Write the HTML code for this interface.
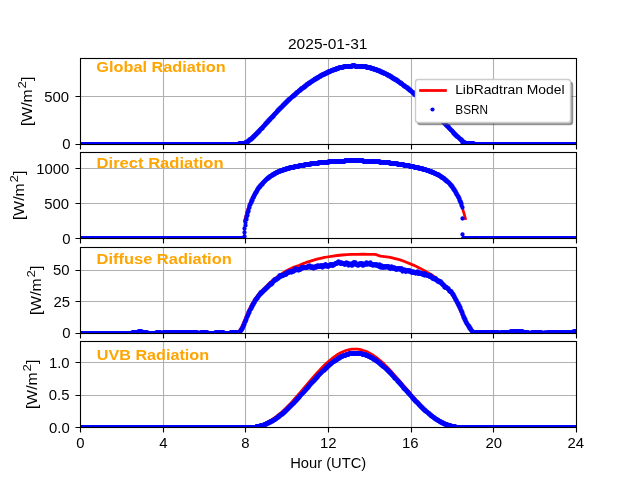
<!DOCTYPE html>
<html lang="en"><head><meta charset="utf-8"><title>Radiation 2025-01-31</title>
<style>html,body{margin:0;padding:0;background:#fff;overflow:hidden}svg{display:block}text{font-family:"Liberation Sans",sans-serif}</style></head>
<body>
<svg width="640" height="480" viewBox="0 0 640 480">
<rect width="640" height="480" fill="#fff"/>
<defs><clipPath id="c0"><rect x="80" y="58" width="496" height="86"/></clipPath><clipPath id="c1"><rect x="80" y="152" width="496" height="86"/></clipPath><clipPath id="c2"><rect x="80" y="247" width="496" height="86"/></clipPath><clipPath id="c3"><rect x="80" y="341" width="496" height="86"/></clipPath></defs>
<g id="ax0">
<path d="M163.5 58.5V144.5M245.5 58.5V144.5M328.5 58.5V144.5M411.5 58.5V144.5M493.5 58.5V144.5M80.5 96.5H576.5" stroke="#b0b0b0" stroke-width="1.11" fill="none"/>
<g clip-path="url(#c0)" fill="none" stroke-linejoin="round">
<path d="M80 143.6 238.4 143.6 241.5 143.2 244.3 142.8 245 142.5 246.4 141.8 248.4 140.3 251.5 137.6 254.3 135.1 257.7 131.6 260.1 129.1 273.9 114.1 278.7 109 283.2 104.4 288 99.8 292.9 95.4 298.4 90.7 303.5 86.6 308.4 83 311.5 80.8 314.2 79 317.3 77.1 320.1 75.5 322.8 74.1 325.9 72.5 328.7 71.3 331.8 70 334.5 68.9 337.3 67.9 338.7 67.5 340.1 67.1 343.2 66.5 346.3 66 349.7 65.6 353.1 65.4 353.8 64.8 354.2 65 354.5 65.6 357.6 65.7 358 65.5 359.7 65.6 363.5 66.1 366.9 66.7 369.3 67.3 371.4 67.9 373.8 68.6 376.6 69.6 379.7 70.9 382.8 72.3 385.9 73.8 388.6 75.3 391.4 76.9 394.1 78.6 397.2 80.6 400.3 82.8 403.4 85 406.5 87.4 412.4 92.1 419.3 98.1 425.8 104.1 430.3 108.5 436.2 114.4 449.6 128.6 455.4 134.6 458.5 137.7 461.6 140.4 462.3 142 462.7 142.2 468.5 143.1 473.7 143.6 575.7 143.6" stroke="#f00" stroke-width="2.78" stroke-linecap="square"/>
<path d="M352.5 65.5h2M343.5 66.5h9M355.5 66.5h11M339.5 67.5h4M366.5 67.5h4M336.5 68.5h2M370.5 68.5h3M333.5 69.5h3M373.5 69.5h3M331.5 70.5h2M376.5 70.5h3M328.5 71.5h2M379.5 71.5h2M326.5 72.5h2M381.5 72.5h2M324.5 73.5h2M383.5 73.5h2M322.5 74.5h2M386.5 74.5h1M320.5 75.5h2M387.5 75.5h2M319.5 76.5h1M389.5 76.5h2M317.5 77.5h1M391.5 77.5h1M315.5 78.5h2M392.5 78.5h2M314.5 79.5h1M394.5 79.5h2M312.5 80.5h1M396.5 80.5h1M311.5 81.5h1M397.5 81.5h1M309.5 82.5h1M399.5 82.5h1M308.5 83.5h1M400.5 83.5h1M306.5 84.5h1M402.5 84.5h0M305.5 85.5h1M403.5 85.5h1M304.5 86.5h1M404.5 86.5h1M303.5 87.5h1M406.5 87.5h1M301.5 88.5h1M407.5 88.5h1M300.5 89.5h1M408.5 89.5h1M299.5 90.5h1M409.5 90.5h1M298.5 91.5h0M411.5 91.5h0M296.5 92.5h1M412.5 92.5h1M295.5 93.5h1M413.5 93.5h1M294.5 94.5h1M414.5 94.5h1M293.5 95.5h1M415.5 95.5h1M292.5 96.5h1M417.5 96.5h0M291.5 97.5h0M418.5 97.5h1M290.5 98.5h0M419.5 98.5h1M288.5 99.5h1M420.5 99.5h1M287.5 100.5h1M421.5 100.5h1M286.5 101.5h1M422.5 101.5h1M285.5 102.5h1M423.5 102.5h1M284.5 103.5h1M424.5 103.5h1M283.5 104.5h1M425.5 104.5h1M282.5 105.5h1M427.5 105.5h0M282.5 106.5h0M428.5 106.5h0M280.5 107.5h1M429.5 107.5h0M279.5 108.5h1M430.5 108.5h0M278.5 109.5h1M431.5 109.5h0M277.5 110.5h1M431.5 110.5h1M277.5 111.5h0M432.5 111.5h1M276.5 112.5h0M433.5 112.5h1M275.5 113.5h0M434.5 113.5h1M274.5 114.5h0M435.5 114.5h1M273.5 115.5h0M437.5 115.5h0M272.5 116.5h1M437.5 116.5h1M271.5 117.5h1M438.5 117.5h1M270.5 118.5h0M439.5 118.5h1M269.5 119.5h1M440.5 119.5h1M268.5 120.5h1M441.5 120.5h1M267.5 121.5h1M442.5 121.5h1M266.5 122.5h1M443.5 122.5h1M265.5 123.5h1M444.5 123.5h1M265.5 124.5h0M445.5 124.5h0M264.5 125.5h0M446.5 125.5h0M263.5 126.5h0M447.5 126.5h1M262.5 127.5h0M448.5 127.5h0M261.5 128.5h1M449.5 128.5h0M260.5 129.5h0M450.5 129.5h0M259.5 130.5h0M451.5 130.5h0M258.5 131.5h1M452.5 131.5h0M257.5 132.5h1M453.5 132.5h0M256.5 133.5h1M453.5 133.5h1M255.5 134.5h1M454.5 134.5h1M254.5 135.5h1M455.5 135.5h1M253.5 136.5h1M456.5 136.5h1M252.5 137.5h1M458.5 137.5h0M251.5 138.5h1M459.5 138.5h0M249.5 139.5h2M460.5 139.5h1M248.5 140.5h1M461.5 140.5h1M247.5 141.5h1M462.5 141.5h0M245.5 142.5h2M462.5 142.5h2M239.5 143.5h6M465.5 143.5h8M80.5 144.5h158M473.5 144.5h103" stroke="#00f" stroke-width="4.32" stroke-linecap="round"/>
<path d="M352.5 65.5h2M344.5 66.5h7M355.5 66.5h10M339.5 67.5h3M366.5 67.5h4M336.5 68.5h2M371.5 68.5h2M334.5 69.5h1M374.5 69.5h2M331.5 70.5h1M377.5 70.5h1M329.5 71.5h1M379.5 71.5h1M327.5 72.5h1M381.5 72.5h2M325.5 73.5h1M384.5 73.5h1M322.5 74.5h2M386.5 74.5h1M321.5 75.5h0M388.5 75.5h1M319.5 76.5h1M390.5 76.5h0M317.5 77.5h1M391.5 77.5h1M316.5 78.5h0M393.5 78.5h0M314.5 79.5h1M394.5 79.5h1M313.5 80.5h0M396.5 80.5h1M311.5 81.5h0M398.5 81.5h0M310.5 82.5h0M399.5 82.5h0M308.5 83.5h1M400.5 83.5h1M307.5 84.5h0M402.5 84.5h0M306.5 85.5h0M403.5 85.5h0M304.5 86.5h1M404.5 86.5h1M303.5 87.5h0M406.5 87.5h0M301.5 88.5h1M407.5 88.5h1M300.5 89.5h0M409.5 89.5h0M299.5 90.5h0M410.5 90.5h0M298.5 91.5h0M411.5 91.5h0M297.5 92.5h0M412.5 92.5h0M296.5 93.5h0M413.5 93.5h0M295.5 94.5h0M414.5 94.5h1M293.5 95.5h1M416.5 95.5h0M292.5 96.5h0M417.5 96.5h0M291.5 97.5h0M418.5 97.5h0M290.5 98.5h0M419.5 98.5h0M289.5 99.5h0M420.5 99.5h0M288.5 100.5h0M421.5 100.5h0M287.5 101.5h0M422.5 101.5h0M286.5 102.5h0M423.5 102.5h0M285.5 103.5h0M424.5 103.5h1M284.5 104.5h0M426.5 104.5h0M283.5 105.5h0M427.5 105.5h0M282.5 106.5h0M428.5 106.5h0M281.5 107.5h0M429.5 107.5h0M280.5 108.5h0M430.5 108.5h0M279.5 109.5h0M431.5 109.5h0M278.5 110.5h0M432.5 110.5h0M277.5 111.5h0M433.5 111.5h0M276.5 112.5h0M434.5 112.5h0M275.5 113.5h0M435.5 113.5h0M274.5 114.5h0M436.5 114.5h0M273.5 115.5h0M437.5 115.5h0M272.5 116.5h0M438.5 116.5h0M271.5 117.5h0M439.5 117.5h0M270.5 118.5h0M440.5 118.5h0M269.5 119.5h0M441.5 119.5h0M268.5 120.5h0M442.5 121.5h0M267.5 122.5h0M443.5 122.5h0M266.5 123.5h0M444.5 123.5h0M265.5 124.5h0M445.5 124.5h0M264.5 125.5h0M446.5 125.5h0M263.5 126.5h0M447.5 126.5h0M262.5 127.5h0M448.5 127.5h0M261.5 128.5h0M449.5 128.5h0M260.5 129.5h0M450.5 129.5h0M259.5 130.5h0M451.5 130.5h0M258.5 131.5h0M452.5 131.5h0M257.5 132.5h0M453.5 132.5h0M256.5 133.5h0M454.5 133.5h0M255.5 134.5h0M455.5 134.5h0M254.5 135.5h0M456.5 135.5h0M253.5 136.5h0M457.5 136.5h0M252.5 137.5h0M458.5 137.5h0M251.5 138.5h0M459.5 138.5h0M250.5 139.5h0M460.5 139.5h0M249.5 140.5h0M461.5 140.5h0M247.5 141.5h1M245.5 142.5h1M463.5 142.5h1M239.5 143.5h5M465.5 143.5h8M80.5 144.5h158M474.5 144.5h101" stroke="#00f" stroke-width="4.32" stroke-linecap="round"/>
<path d="M353.5 65.5h0M344.5 66.5h7M355.5 66.5h8M365.5 66.5h0M339.5 67.5h3M367.5 67.5h2M337.5 68.5h1M371.5 68.5h1M334.5 69.5h1M375.5 69.5h0M331.5 70.5h1M377.5 70.5h1M329.5 71.5h1M380.5 71.5h0M327.5 72.5h0M382.5 72.5h0M325.5 73.5h0M384.5 73.5h0M386.5 74.5h0M321.5 75.5h0M388.5 75.5h0M319.5 76.5h0M390.5 76.5h0M318.5 77.5h0M316.5 78.5h0M393.5 78.5h0M314.5 79.5h0M313.5 80.5h0M311.5 81.5h0M398.5 81.5h0M310.5 82.5h0M399.5 82.5h0M308.5 83.5h0M401.5 83.5h0M307.5 84.5h0M402.5 84.5h0M403.5 85.5h0M303.5 87.5h0M406.5 87.5h0M299.5 90.5h0M410.5 90.5h0M298.5 91.5h0M411.5 91.5h0M297.5 92.5h0M412.5 92.5h0M417.5 96.5h0M291.5 97.5h0M418.5 97.5h0M290.5 98.5h0M289.5 99.5h0M427.5 105.5h0M428.5 106.5h0M429.5 107.5h0M430.5 108.5h0M276.5 112.5h0M275.5 113.5h0M274.5 114.5h0M264.5 125.5h0M446.5 125.5h0M263.5 126.5h0M449.5 128.5h0M260.5 129.5h0M450.5 129.5h0M451.5 130.5h0M452.5 131.5h0M458.5 137.5h0M459.5 138.5h0M460.5 139.5h0M246.5 142.5h0M463.5 142.5h1M239.5 143.5h0M241.5 143.5h3M465.5 143.5h1M468.5 143.5h4M81.5 144.5h3M86.5 144.5h8M96.5 144.5h9M107.5 144.5h8M117.5 144.5h8M127.5 144.5h9M138.5 144.5h8M148.5 144.5h8M158.5 144.5h9M169.5 144.5h8M179.5 144.5h8M189.5 144.5h9M200.5 144.5h8M210.5 144.5h8M220.5 144.5h9M231.5 144.5h7M474.5 144.5h3M479.5 144.5h8M489.5 144.5h8M499.5 144.5h9M510.5 144.5h8M520.5 144.5h8M530.5 144.5h9M541.5 144.5h8M551.5 144.5h8M561.5 144.5h9M572.5 144.5h3" stroke="#00f" stroke-width="4.32" stroke-linecap="round"/>
</g>
<path d="M80.5 144.5v5M163.5 144.5v5M245.5 144.5v5M328.5 144.5v5M411.5 144.5v5M493.5 144.5v5M576.5 144.5v5M80.5 144.5h-5M80.5 96.5h-5" stroke="#000" stroke-width="1.11" fill="none"/>
<rect x="80.5" y="58.5" width="496" height="86" fill="none" stroke="#000" stroke-width="1.11"/>
</g>
<g id="ax1">
<path d="M163.5 152.5V238.5M245.5 152.5V238.5M328.5 152.5V238.5M411.5 152.5V238.5M493.5 152.5V238.5M80.5 203.5H576.5M80.5 168.5H576.5" stroke="#b0b0b0" stroke-width="1.11" fill="none"/>
<g clip-path="url(#c1)" fill="none" stroke-linejoin="round">
<path d="M244.6 220.8 246 215.7 247.4 210.9 248.4 207.7 249.8 203.8 251.2 200.4 252.6 197.4 254.3 194 256 191.1 257.7 188.4 259.8 185.7 261.9 183.2 263.9 181 266.3 178.8 268.8 176.8 271.2 175.1 273.9 173.4 276.7 172 279.4 170.7 282.5 169.5 285.6 168.5 289.4 167.5 293.6 166.5 298.4 165.5 303.5 164.6 308.7 163.7 314.6 162.9 320.1 162.3 325.6 161.7 333.2 161.1 339 160.7 344.2 160.5 350 160.4 356.2 160.4 362.1 160.5 367.6 160.7 373.1 161 380.4 161.6 387.2 162.3 393.4 163 399.3 163.9 405.5 164.9 411.4 166 416.5 167.1 421.3 168.3 425.5 169.5 428.9 170.6 432.4 172 435.8 173.6 438.6 175.1 441.3 176.7 443.7 178.4 446.1 180.4 448.2 182.3 450.3 184.6 452 186.8 453.7 189.2 455.4 192 456.8 194.5 458.5 198.1 459.9 201.3 461.3 205 462.7 209.1 464.1 213.6 465.4 218.6" stroke="#f00" stroke-width="2.78" stroke-linecap="square"/>
<path d="M345.5 160.5h17M328.5 161.5h16M363.5 161.5h16M318.5 162.5h10M379.5 162.5h10M310.5 163.5h8M389.5 163.5h8M304.5 164.5h6M397.5 164.5h6M299.5 165.5h5M403.5 165.5h6M294.5 166.5h4M409.5 166.5h4M289.5 167.5h5M414.5 167.5h4M286.5 168.5h3M418.5 168.5h4M283.5 169.5h3M422.5 169.5h3M280.5 170.5h3M426.5 170.5h2M278.5 171.5h2M429.5 171.5h2M276.5 172.5h1M431.5 172.5h2M274.5 173.5h1M434.5 173.5h1M272.5 174.5h2M436.5 174.5h2M271.5 175.5h1M438.5 175.5h1M269.5 176.5h1M440.5 176.5h1M268.5 177.5h1M441.5 177.5h1M267.5 178.5h1M443.5 178.5h1M266.5 179.5h0M444.5 179.5h1M265.5 180.5h0M445.5 180.5h1M264.5 181.5h0M446.5 181.5h1M263.5 182.5h0M448.5 182.5h0M262.5 183.5h0M449.5 183.5h0M261.5 184.5h1M450.5 184.5h0M260.5 185.5h0M450.5 185.5h1M259.5 186.5h1M451.5 186.5h1M258.5 187.5h1M452.5 187.5h0M258.5 188.5h0M453.5 188.5h0M257.5 189.5h0M453.5 189.5h1M257.5 190.5h0M454.5 190.5h0M256.5 191.5h0M455.5 191.5h0M255.5 192.5h1M455.5 192.5h0M255.5 193.5h0M456.5 193.5h0M254.5 194.5h0M456.5 194.5h0M254.5 195.5h0M457.5 195.5h0M253.5 196.5h0M458.5 196.5h0M253.5 197.5h0M458.5 197.5h0M252.5 198.5h0M459.5 198.5h0M252.5 199.5h0M459.5 199.5h0M251.5 200.5h1M459.5 200.5h0M251.5 201.5h0M460.5 201.5h0M251.5 202.5h0M460.5 202.5h0M250.5 203.5h0M461.5 203.5h0M250.5 204.5h0M461.5 204.5h0M249.5 205.5h0M461.5 205.5h0M249.5 206.5h0M249.5 207.5h0M462.5 207.5h0M248.5 209.5h0M248.5 210.5h0M248.5 211.5h0M247.5 212.5h0M247.5 213.5h0M247.5 215.5h0M246.5 216.5h0M246.5 217.5h0M462.5 218.5h0M246.5 219.5h0M245.5 220.5h0M245.5 222.5h0M245.5 225.5h0M244.5 228.5h0M244.5 232.5h0M462.5 234.5h0M244.5 236.5h0M80.5 238.5h163M463.5 238.5h113" stroke="#00f" stroke-width="4.32" stroke-linecap="round"/>
<path d="M345.5 160.5h17M329.5 161.5h15M363.5 161.5h16M319.5 162.5h9M380.5 162.5h9M311.5 163.5h7M390.5 163.5h6M305.5 164.5h5M397.5 164.5h6M299.5 165.5h5M404.5 165.5h4M294.5 166.5h4M409.5 166.5h4M290.5 167.5h3M414.5 167.5h4M286.5 168.5h3M419.5 168.5h3M283.5 169.5h2M423.5 169.5h2M280.5 170.5h2M426.5 170.5h2M278.5 171.5h1M429.5 171.5h2M276.5 172.5h1M432.5 172.5h1M274.5 173.5h1M434.5 173.5h1M273.5 174.5h0M436.5 174.5h1M271.5 175.5h1M438.5 175.5h1M270.5 176.5h0M440.5 176.5h0M268.5 177.5h1M441.5 177.5h1M267.5 178.5h0M443.5 178.5h0M266.5 179.5h0M444.5 179.5h0M265.5 180.5h0M445.5 180.5h1M264.5 181.5h0M447.5 181.5h0M263.5 182.5h0M448.5 182.5h0M262.5 183.5h0M449.5 183.5h0M261.5 184.5h0M450.5 184.5h0M260.5 185.5h0M451.5 185.5h0M259.5 187.5h0M452.5 187.5h0M258.5 188.5h0M453.5 188.5h0M257.5 189.5h0M454.5 190.5h0M256.5 191.5h0M455.5 191.5h0M255.5 193.5h0M456.5 193.5h0M254.5 195.5h0M457.5 195.5h0M253.5 197.5h0M458.5 197.5h0M460.5 201.5h0M80.5 238.5h163M463.5 238.5h112" stroke="#00f" stroke-width="4.32" stroke-linecap="round"/>
<path d="M345.5 160.5h8M355.5 160.5h7M329.5 161.5h3M334.5 161.5h8M344.5 161.5h0M363.5 161.5h0M365.5 161.5h8M375.5 161.5h3M319.5 162.5h3M324.5 162.5h3M380.5 162.5h4M386.5 162.5h2M311.5 163.5h0M313.5 163.5h4M390.5 163.5h4M396.5 163.5h0M305.5 164.5h4M398.5 164.5h4M299.5 165.5h2M303.5 165.5h0M404.5 165.5h0M406.5 165.5h2M295.5 166.5h3M410.5 166.5h3M290.5 167.5h1M293.5 167.5h0M414.5 167.5h1M417.5 167.5h0M287.5 168.5h1M419.5 168.5h2M284.5 169.5h1M423.5 169.5h2M282.5 170.5h0M427.5 170.5h1M278.5 171.5h1M429.5 171.5h1M276.5 172.5h1M432.5 172.5h1M275.5 173.5h0M434.5 173.5h1M273.5 174.5h0M437.5 174.5h0M439.5 175.5h0M270.5 176.5h0M440.5 176.5h0M442.5 177.5h0M267.5 178.5h0M443.5 178.5h0M266.5 179.5h0M265.5 180.5h0M264.5 181.5h0M263.5 182.5h0M448.5 182.5h0M449.5 183.5h0M81.5 238.5h3M86.5 238.5h8M96.5 238.5h9M107.5 238.5h8M117.5 238.5h8M127.5 238.5h9M138.5 238.5h8M148.5 238.5h8M158.5 238.5h9M169.5 238.5h8M179.5 238.5h8M189.5 238.5h9M200.5 238.5h8M210.5 238.5h8M220.5 238.5h9M231.5 238.5h8M241.5 238.5h2M463.5 238.5h3M468.5 238.5h9M479.5 238.5h8M489.5 238.5h8M499.5 238.5h9M510.5 238.5h8M520.5 238.5h8M530.5 238.5h9M541.5 238.5h8M551.5 238.5h8M561.5 238.5h9M572.5 238.5h3" stroke="#00f" stroke-width="4.32" stroke-linecap="round"/>
</g>
<path d="M80.5 238.5v5M163.5 238.5v5M245.5 238.5v5M328.5 238.5v5M411.5 238.5v5M493.5 238.5v5M576.5 238.5v5M80.5 238.5h-5M80.5 203.5h-5M80.5 168.5h-5" stroke="#000" stroke-width="1.11" fill="none"/>
<rect x="80.5" y="152.5" width="496" height="86" fill="none" stroke="#000" stroke-width="1.11"/>
</g>
<g id="ax2">
<path d="M163.5 247.5V333.5M245.5 247.5V333.5M328.5 247.5V333.5M411.5 247.5V333.5M493.5 247.5V333.5M80.5 301.5H576.5M80.5 270.5H576.5" stroke="#b0b0b0" stroke-width="1.11" fill="none"/>
<g clip-path="url(#c2)" fill="none" stroke-linejoin="round">
<path d="M239.8 330 240.5 329 241.2 327.8 242.9 324.4 247.4 313.6 249.1 309.6 250.5 306.7 251.9 304.1 253.9 300.6 255.3 298.4 256.4 297 260.8 291.7 267 285.8 267.4 285.1 270.8 281.9 274.3 279 277.7 276.4 282.2 273.4 286 271 289.4 269.2 292.2 267.9 294.2 267.1 299.4 265.3 303.9 263.4 305.6 262.7 317 259.2 321.5 258.1 324.6 257.4 327 257 337.3 255.5 342.1 255 346.9 254.6 351.8 254.4 357.6 254.3 362.8 254.2 369 254.3 373.8 254.3 374.8 254.4 376.2 254.6 379 255.7 380.4 256.1 382.4 256.4 388.6 257.2 391.4 257.7 394.1 258.3 398.3 259.3 400.7 260.1 402.7 260.8 413.4 265.1 416.9 266.7 420.3 268.4 424.4 270.6 429.6 273.6 432.4 275.3 434.8 277.1 436.5 278.5 438.6 280.3 438.9 281.9 442.7 284.6 444.1 285.7 445.1 286.7 449.2 291.2 451 293 452 294.4 453 296 454.1 297.8 456.1 301.6 457.5 304.3 459.2 308 462.7 316.1 464.7 320.5 466.5 323.9 468.2 326.9 469.6 328.9 470.3 329.8 471.3 330.9 472.7 332" stroke="#f00" stroke-width="2.78" stroke-linecap="square"/>
<path d="M338.5 261.5h0M337.5 262.5h2M341.5 262.5h0M346.5 262.5h0M353.5 262.5h2M366.5 262.5h0M370.5 262.5h0M335.5 263.5h2M340.5 263.5h8M351.5 263.5h2M355.5 263.5h0M359.5 263.5h3M365.5 263.5h5M325.5 264.5h0M330.5 264.5h1M333.5 264.5h1M344.5 264.5h1M347.5 264.5h0M349.5 264.5h4M355.5 264.5h12M369.5 264.5h7M379.5 264.5h0M309.5 265.5h0M317.5 265.5h1M320.5 265.5h1M323.5 265.5h7M332.5 265.5h1M348.5 265.5h0M351.5 265.5h1M357.5 265.5h1M362.5 265.5h1M372.5 265.5h1M375.5 265.5h3M381.5 265.5h0M307.5 266.5h5M315.5 266.5h7M324.5 266.5h0M326.5 266.5h2M378.5 266.5h10M391.5 266.5h0M301.5 267.5h6M310.5 267.5h6M322.5 267.5h0M380.5 267.5h0M382.5 267.5h3M387.5 267.5h7M295.5 268.5h0M300.5 268.5h2M313.5 268.5h0M389.5 268.5h1M392.5 268.5h9M294.5 269.5h6M395.5 269.5h2M399.5 269.5h3M404.5 269.5h0M293.5 270.5h2M298.5 270.5h0M402.5 270.5h2M406.5 270.5h3M289.5 271.5h4M402.5 271.5h0M405.5 271.5h1M408.5 271.5h5M417.5 271.5h0M287.5 272.5h2M291.5 272.5h0M411.5 272.5h8M285.5 273.5h1M415.5 273.5h0M417.5 273.5h7M283.5 274.5h3M422.5 274.5h1M425.5 274.5h1M279.5 275.5h4M424.5 275.5h0M426.5 275.5h2M430.5 275.5h0M279.5 276.5h2M429.5 276.5h2M278.5 277.5h1M431.5 277.5h1M277.5 278.5h1M432.5 278.5h3M274.5 279.5h2M434.5 279.5h0M436.5 279.5h0M273.5 280.5h2M436.5 280.5h2M273.5 281.5h0M437.5 281.5h3M272.5 282.5h0M439.5 282.5h2M270.5 283.5h2M441.5 283.5h0M269.5 284.5h2M442.5 284.5h1M268.5 285.5h1M443.5 285.5h1M267.5 286.5h1M444.5 286.5h1M266.5 287.5h1M444.5 287.5h2M265.5 288.5h1M447.5 288.5h1M264.5 289.5h1M448.5 289.5h0M263.5 290.5h1M449.5 290.5h0M262.5 291.5h1M449.5 291.5h2M260.5 292.5h2M451.5 292.5h0M260.5 293.5h1M452.5 293.5h0M259.5 294.5h1M452.5 294.5h1M258.5 295.5h1M453.5 295.5h0M258.5 296.5h0M454.5 296.5h0M257.5 297.5h0M454.5 297.5h0M256.5 298.5h1M455.5 298.5h0M255.5 299.5h1M455.5 299.5h0M255.5 300.5h0M456.5 300.5h0M254.5 301.5h0M456.5 301.5h0M254.5 302.5h0M457.5 302.5h0M253.5 303.5h0M457.5 303.5h1M252.5 304.5h1M458.5 304.5h0M252.5 305.5h0M458.5 305.5h1M251.5 306.5h1M459.5 306.5h0M251.5 307.5h0M459.5 307.5h1M251.5 308.5h0M460.5 308.5h0M250.5 309.5h0M460.5 309.5h0M249.5 310.5h0M461.5 310.5h0M249.5 311.5h0M461.5 311.5h0M248.5 312.5h1M462.5 312.5h0M248.5 313.5h0M462.5 313.5h0M248.5 314.5h0M462.5 314.5h0M247.5 315.5h0M463.5 315.5h0M247.5 316.5h0M463.5 316.5h0M246.5 317.5h0M463.5 317.5h1M246.5 318.5h0M464.5 318.5h0M246.5 319.5h0M464.5 319.5h1M245.5 320.5h0M465.5 320.5h0M245.5 321.5h0M465.5 321.5h0M244.5 322.5h0M466.5 322.5h0M244.5 323.5h0M466.5 323.5h0M244.5 324.5h0M467.5 324.5h0M243.5 325.5h0M468.5 325.5h0M243.5 326.5h0M468.5 326.5h1M242.5 327.5h0M469.5 327.5h0M242.5 328.5h0M469.5 328.5h1M241.5 329.5h0M470.5 329.5h0M240.5 330.5h1M471.5 330.5h0M138.5 331.5h3M240.5 331.5h0M472.5 331.5h0M510.5 331.5h12M573.5 331.5h3M132.5 332.5h6M141.5 332.5h6M156.5 332.5h4M163.5 332.5h34M200.5 332.5h7M215.5 332.5h8M230.5 332.5h9M473.5 332.5h25M500.5 332.5h10M522.5 332.5h6M531.5 332.5h10M544.5 332.5h1M547.5 332.5h26M80.5 333.5h52M147.5 333.5h9M160.5 333.5h3M197.5 333.5h3M207.5 333.5h8M223.5 333.5h7M498.5 333.5h2M528.5 333.5h3M541.5 333.5h6" stroke="#00f" stroke-width="4.32" stroke-linecap="round"/>
<path d="M337.5 262.5h2M354.5 262.5h0M335.5 263.5h1M340.5 263.5h3M345.5 263.5h3M360.5 263.5h1M365.5 263.5h0M367.5 263.5h2M325.5 264.5h0M330.5 264.5h1M334.5 264.5h0M344.5 264.5h0M349.5 264.5h1M356.5 264.5h3M363.5 264.5h1M371.5 264.5h5M321.5 265.5h0M323.5 265.5h1M326.5 265.5h1M329.5 265.5h0M332.5 265.5h0M377.5 265.5h1M308.5 266.5h1M315.5 266.5h5M322.5 266.5h0M328.5 266.5h0M379.5 266.5h2M383.5 266.5h1M386.5 266.5h2M301.5 267.5h0M303.5 267.5h4M310.5 267.5h1M313.5 267.5h1M382.5 267.5h0M389.5 267.5h0M391.5 267.5h1M390.5 268.5h0M393.5 268.5h1M397.5 268.5h2M401.5 268.5h0M294.5 269.5h0M296.5 269.5h4M396.5 269.5h0M400.5 269.5h0M403.5 270.5h1M406.5 270.5h3M289.5 271.5h4M405.5 271.5h0M410.5 271.5h0M287.5 272.5h1M411.5 272.5h5M286.5 273.5h0M418.5 273.5h3M424.5 273.5h0M284.5 274.5h1M422.5 274.5h1M425.5 274.5h0M280.5 275.5h0M282.5 275.5h1M427.5 275.5h1M429.5 276.5h2M278.5 277.5h0M277.5 278.5h0M432.5 278.5h3M275.5 279.5h1M274.5 280.5h0M437.5 280.5h0M273.5 281.5h0M438.5 281.5h2M272.5 282.5h0M441.5 282.5h0M270.5 283.5h0M442.5 284.5h0M269.5 285.5h0M443.5 285.5h0M268.5 286.5h0M266.5 287.5h1M445.5 287.5h1M447.5 288.5h0M264.5 289.5h1M448.5 289.5h0M263.5 290.5h0M449.5 290.5h0M262.5 291.5h0M450.5 291.5h0M451.5 292.5h0M452.5 293.5h0M259.5 294.5h0M453.5 295.5h0M258.5 296.5h0M257.5 297.5h0M454.5 297.5h0M256.5 298.5h0M455.5 299.5h0M255.5 300.5h0M456.5 300.5h0M254.5 302.5h0M253.5 303.5h0M250.5 309.5h0M461.5 311.5h0M247.5 316.5h0M245.5 321.5h0M466.5 322.5h0M467.5 324.5h0M243.5 325.5h0M468.5 325.5h0M242.5 328.5h0M470.5 328.5h0M241.5 329.5h0M471.5 330.5h0M139.5 331.5h2M472.5 331.5h0M511.5 331.5h11M574.5 331.5h1M132.5 332.5h6M142.5 332.5h4M156.5 332.5h4M163.5 332.5h33M201.5 332.5h5M215.5 332.5h8M231.5 332.5h8M473.5 332.5h24M501.5 332.5h9M523.5 332.5h4M532.5 332.5h9M547.5 332.5h26M80.5 333.5h51M148.5 333.5h7M161.5 333.5h1M197.5 333.5h3M207.5 333.5h7M224.5 333.5h5M499.5 333.5h1M528.5 333.5h3M542.5 333.5h4" stroke="#00f" stroke-width="4.32" stroke-linecap="round"/>
<path d="M339.5 262.5h0M335.5 263.5h1M340.5 263.5h0M342.5 263.5h0M368.5 263.5h0M331.5 264.5h0M334.5 264.5h0M349.5 264.5h1M356.5 264.5h0M371.5 264.5h0M329.5 265.5h0M332.5 265.5h0M377.5 265.5h0M308.5 266.5h0M319.5 266.5h0M386.5 266.5h0M303.5 267.5h3M314.5 267.5h0M398.5 268.5h0M296.5 269.5h1M299.5 269.5h0M403.5 270.5h0M407.5 270.5h0M290.5 271.5h0M410.5 271.5h0M287.5 272.5h1M414.5 272.5h0M420.5 273.5h1M284.5 274.5h0M425.5 274.5h0M282.5 275.5h0M427.5 275.5h1M429.5 276.5h0M277.5 278.5h0M433.5 278.5h0M435.5 278.5h0M276.5 279.5h0M442.5 284.5h0M446.5 287.5h0M450.5 291.5h0M471.5 330.5h0M139.5 331.5h1M472.5 331.5h0M511.5 331.5h7M520.5 331.5h1M574.5 331.5h1M133.5 332.5h3M142.5 332.5h4M158.5 332.5h1M164.5 332.5h3M169.5 332.5h8M179.5 332.5h8M189.5 332.5h7M201.5 332.5h5M216.5 332.5h2M220.5 332.5h2M231.5 332.5h8M473.5 332.5h4M479.5 332.5h8M489.5 332.5h8M501.5 332.5h7M523.5 332.5h4M532.5 332.5h7M548.5 332.5h1M551.5 332.5h8M561.5 332.5h9M572.5 332.5h0M81.5 333.5h3M86.5 333.5h8M96.5 333.5h9M107.5 333.5h8M117.5 333.5h8M127.5 333.5h4M148.5 333.5h7M161.5 333.5h1M198.5 333.5h0M208.5 333.5h0M210.5 333.5h4M224.5 333.5h5M499.5 333.5h0M530.5 333.5h0M542.5 333.5h1M546.5 333.5h0" stroke="#00f" stroke-width="4.32" stroke-linecap="round"/>
</g>
<path d="M80.5 333.5v5M163.5 333.5v5M245.5 333.5v5M328.5 333.5v5M411.5 333.5v5M493.5 333.5v5M576.5 333.5v5M80.5 333.5h-5M80.5 301.5h-5M80.5 270.5h-5" stroke="#000" stroke-width="1.11" fill="none"/>
<rect x="80.5" y="247.5" width="496" height="86" fill="none" stroke="#000" stroke-width="1.11"/>
</g>
<g id="ax3">
<path d="M163.5 341.5V427.5M245.5 341.5V427.5M328.5 341.5V427.5M411.5 341.5V427.5M493.5 341.5V427.5M80.5 395.5H576.5M80.5 362.5H576.5" stroke="#b0b0b0" stroke-width="1.11" fill="none"/>
<g clip-path="url(#c3)" fill="none" stroke-linejoin="round">
<path d="M80 427.2 245.7 427.2 249.5 427.1 252.9 426.7 256 426.2 259.1 425.5 262.2 424.5 265 423.4 267.7 422 270.8 420.3 273.6 418.5 276.7 416.2 279.8 413.7 282.9 411 285.3 408.7 288 406 290.8 403.1 293.9 399.7 299.4 393.4 312.8 377.7 316.3 373.8 319.4 370.4 322.8 366.8 325.9 363.8 329 361 331.8 358.7 334.9 356.3 337.6 354.5 340.7 352.8 343.5 351.5 345.2 350.8 346.6 350.3 349.4 349.6 352.1 349.2 354.9 349.1 357.6 349.2 359 349.4 360.7 349.7 363.5 350.5 366.6 351.6 369.3 352.9 372.4 354.7 375.5 356.8 378.6 359.2 381.4 361.6 384.5 364.4 387.6 367.5 391 371.1 397.2 378.1 410 393 415.1 399 420.7 404.9 425.5 409.7 428.6 412.5 431.3 414.9 434.1 417 436.8 419 439.6 420.7 442.4 422.2 445.1 423.5 447.9 424.6 451.3 425.7 453 426.1 455.1 426.5 458.9 427 463 427.2 575.7 427.2" stroke="#f00" stroke-width="2.78" stroke-linecap="square"/>
<path d="M349.5 353.5h12M346.5 354.5h2M362.5 354.5h3M343.5 355.5h2M365.5 355.5h2M341.5 356.5h1M368.5 356.5h1M339.5 357.5h1M370.5 357.5h1M337.5 358.5h2M372.5 358.5h1M336.5 359.5h1M373.5 359.5h2M334.5 360.5h2M375.5 360.5h1M333.5 361.5h1M376.5 361.5h1M332.5 362.5h0M378.5 362.5h1M330.5 363.5h1M379.5 363.5h1M329.5 364.5h1M380.5 364.5h1M328.5 365.5h1M381.5 365.5h1M327.5 366.5h1M382.5 366.5h1M326.5 367.5h1M384.5 367.5h0M325.5 368.5h1M385.5 368.5h1M324.5 369.5h1M386.5 369.5h1M323.5 370.5h1M387.5 370.5h1M322.5 371.5h0M388.5 371.5h1M321.5 372.5h0M389.5 372.5h1M320.5 373.5h0M390.5 373.5h1M319.5 374.5h0M391.5 374.5h0M318.5 375.5h0M392.5 375.5h0M317.5 376.5h0M393.5 376.5h0M316.5 377.5h1M394.5 377.5h0M315.5 378.5h1M394.5 378.5h1M314.5 379.5h1M396.5 379.5h0M313.5 380.5h1M397.5 380.5h0M312.5 381.5h1M397.5 381.5h1M311.5 382.5h1M398.5 382.5h1M310.5 383.5h1M399.5 383.5h1M310.5 384.5h0M400.5 384.5h1M309.5 385.5h0M401.5 385.5h0M308.5 386.5h0M402.5 386.5h0M307.5 387.5h1M403.5 387.5h0M306.5 388.5h1M403.5 388.5h1M305.5 389.5h1M404.5 389.5h1M304.5 390.5h1M406.5 390.5h0M304.5 391.5h0M406.5 391.5h1M303.5 392.5h0M407.5 392.5h1M302.5 393.5h0M408.5 393.5h1M301.5 394.5h0M409.5 394.5h0M300.5 395.5h0M410.5 395.5h0M299.5 396.5h0M411.5 396.5h0M298.5 397.5h1M412.5 397.5h0M297.5 398.5h1M412.5 398.5h1M296.5 399.5h1M413.5 399.5h1M295.5 400.5h1M414.5 400.5h1M294.5 401.5h1M415.5 401.5h1M294.5 402.5h0M416.5 402.5h1M293.5 403.5h0M417.5 403.5h1M291.5 404.5h1M418.5 404.5h1M290.5 405.5h1M419.5 405.5h1M289.5 406.5h1M420.5 406.5h1M288.5 407.5h1M421.5 407.5h1M287.5 408.5h1M422.5 408.5h1M286.5 409.5h1M423.5 409.5h1M285.5 410.5h1M424.5 410.5h1M284.5 411.5h1M425.5 411.5h1M283.5 412.5h1M427.5 412.5h0M282.5 413.5h1M428.5 413.5h1M280.5 414.5h2M429.5 414.5h1M279.5 415.5h1M430.5 415.5h1M278.5 416.5h1M431.5 416.5h1M277.5 417.5h1M433.5 417.5h1M275.5 418.5h1M434.5 418.5h1M274.5 419.5h1M435.5 419.5h2M272.5 420.5h1M437.5 420.5h1M270.5 421.5h2M439.5 421.5h1M268.5 422.5h2M440.5 422.5h2M266.5 423.5h2M442.5 423.5h2M264.5 424.5h2M444.5 424.5h3M260.5 425.5h3M447.5 425.5h3M256.5 426.5h4M450.5 426.5h5M80.5 427.5h175M455.5 427.5h121" stroke="#00f" stroke-width="4.32" stroke-linecap="round"/>
<path d="M349.5 353.5h12M346.5 354.5h2M362.5 354.5h3M343.5 355.5h2M366.5 355.5h1M341.5 356.5h1M368.5 356.5h1M339.5 357.5h1M370.5 357.5h1M338.5 358.5h0M372.5 358.5h0M336.5 359.5h1M373.5 359.5h1M335.5 360.5h0M375.5 360.5h1M333.5 361.5h1M377.5 361.5h0M332.5 362.5h0M378.5 362.5h0M331.5 363.5h0M379.5 363.5h0M329.5 364.5h1M380.5 364.5h1M328.5 365.5h0M382.5 365.5h0M327.5 366.5h0M383.5 366.5h0M326.5 367.5h0M384.5 367.5h0M325.5 368.5h0M385.5 368.5h0M324.5 369.5h0M386.5 369.5h0M323.5 370.5h0M387.5 370.5h0M322.5 371.5h0M388.5 371.5h0M321.5 372.5h0M389.5 372.5h0M320.5 373.5h0M390.5 373.5h0M319.5 374.5h0M391.5 374.5h0M318.5 375.5h0M392.5 375.5h0M317.5 376.5h0M393.5 376.5h0M316.5 377.5h0M394.5 377.5h0M315.5 378.5h0M395.5 378.5h0M396.5 379.5h0M314.5 380.5h0M397.5 380.5h0M313.5 381.5h0M398.5 381.5h0M399.5 382.5h0M311.5 383.5h0M310.5 384.5h0M400.5 384.5h0M309.5 385.5h0M401.5 385.5h0M308.5 386.5h0M402.5 386.5h0M307.5 387.5h0M403.5 387.5h0M306.5 388.5h0M404.5 388.5h0M405.5 389.5h0M305.5 390.5h0M406.5 390.5h0M304.5 391.5h0M407.5 391.5h0M303.5 392.5h0M302.5 393.5h0M408.5 393.5h0M301.5 394.5h0M409.5 394.5h0M300.5 395.5h0M410.5 395.5h0M299.5 396.5h0M411.5 396.5h0M298.5 397.5h0M412.5 397.5h0M297.5 398.5h0M413.5 398.5h0M414.5 399.5h0M296.5 400.5h0M295.5 401.5h0M415.5 401.5h0M294.5 402.5h0M417.5 402.5h0M293.5 403.5h0M418.5 403.5h0M292.5 404.5h0M291.5 405.5h0M419.5 405.5h0M290.5 406.5h0M420.5 406.5h0M289.5 407.5h0M421.5 407.5h0M288.5 408.5h0M422.5 408.5h0M287.5 409.5h0M423.5 409.5h0M286.5 410.5h0M424.5 410.5h1M285.5 411.5h0M426.5 411.5h0M283.5 412.5h1M427.5 412.5h0M282.5 413.5h0M428.5 413.5h0M281.5 414.5h0M429.5 414.5h0M280.5 415.5h0M430.5 415.5h1M278.5 416.5h1M432.5 416.5h0M277.5 417.5h0M433.5 417.5h0M276.5 418.5h0M434.5 418.5h1M274.5 419.5h1M436.5 419.5h0M272.5 420.5h1M437.5 420.5h1M270.5 421.5h1M439.5 421.5h1M268.5 422.5h1M441.5 422.5h1M266.5 423.5h1M443.5 423.5h1M264.5 424.5h1M445.5 424.5h1M260.5 425.5h3M448.5 425.5h2M256.5 426.5h3M451.5 426.5h3M80.5 427.5h175M455.5 427.5h120" stroke="#00f" stroke-width="4.32" stroke-linecap="round"/>
<path d="M349.5 353.5h4M355.5 353.5h6M346.5 354.5h2M362.5 354.5h1M344.5 355.5h1M366.5 355.5h1M341.5 356.5h1M368.5 356.5h1M340.5 357.5h0M370.5 357.5h1M338.5 358.5h0M372.5 358.5h0M335.5 360.5h0M377.5 361.5h0M332.5 362.5h0M378.5 362.5h0M331.5 363.5h0M383.5 366.5h0M384.5 367.5h0M322.5 371.5h0M321.5 372.5h0M320.5 373.5h0M319.5 374.5h0M318.5 375.5h0M392.5 375.5h0M393.5 376.5h0M396.5 379.5h0M309.5 385.5h0M402.5 386.5h0M303.5 392.5h0M301.5 394.5h0M300.5 395.5h0M410.5 395.5h0M411.5 396.5h0M293.5 403.5h0M427.5 412.5h0M428.5 413.5h0M432.5 416.5h0M277.5 417.5h0M433.5 417.5h0M276.5 418.5h0M274.5 419.5h0M273.5 420.5h0M438.5 420.5h0M439.5 421.5h0M269.5 422.5h0M441.5 422.5h0M267.5 423.5h0M443.5 423.5h0M264.5 424.5h1M445.5 424.5h1M262.5 425.5h1M448.5 425.5h1M256.5 426.5h3M451.5 426.5h3M81.5 427.5h3M86.5 427.5h8M96.5 427.5h9M107.5 427.5h8M117.5 427.5h8M127.5 427.5h9M138.5 427.5h8M148.5 427.5h8M158.5 427.5h9M169.5 427.5h8M179.5 427.5h8M189.5 427.5h9M200.5 427.5h8M210.5 427.5h8M220.5 427.5h9M231.5 427.5h8M241.5 427.5h8M251.5 427.5h4M456.5 427.5h0M458.5 427.5h8M468.5 427.5h9M479.5 427.5h8M489.5 427.5h8M499.5 427.5h9M510.5 427.5h8M520.5 427.5h8M530.5 427.5h9M541.5 427.5h8M551.5 427.5h8M561.5 427.5h9M572.5 427.5h3" stroke="#00f" stroke-width="4.32" stroke-linecap="round"/>
</g>
<path d="M80.5 427.5v5M163.5 427.5v5M245.5 427.5v5M328.5 427.5v5M411.5 427.5v5M493.5 427.5v5M576.5 427.5v5M80.5 427.5h-5M80.5 395.5h-5M80.5 362.5h-5" stroke="#000" stroke-width="1.11" fill="none"/>
<rect x="80.5" y="341.5" width="496" height="86" fill="none" stroke="#000" stroke-width="1.11"/>
</g>
<g id="legend"><rect x="417.65" y="82.23" width="154.88" height="42.25" rx="2.5" fill="#4d4d4d" fill-opacity=".5" stroke="#4d4d4d" stroke-opacity=".5" stroke-width="1.39"/><rect x="415.5" y="79.5" width="155" height="43" rx="2.5" fill="#fff" stroke="#ccc" stroke-width="1.39"/><path d="M419.2 90.5H446.8" stroke="#f00" stroke-width="2.78" fill="none"/><circle cx="432.5" cy="109.5" r="2.085" fill="#00f"/></g>
<g id="labels" opacity=".999">
<text transform="translate(287.93 49.00) scale(1.1065 1)" font-size="14.07">2025-01-31</text>
<text transform="translate(290.24 468.00) scale(1.0465 1)" font-size="14.07">Hour (UTC)</text>
<text transform="translate(32.00 126.00) rotate(-90) scale(1.1200 1)" font-size="14.07">[W/m<tspan dy="-6.00" dx="0.75" font-size="11.82">2</tspan><tspan dy="6.00">]</tspan></text>
<text transform="translate(62.30 148.81) scale(1.0600 1)" font-size="14.07">0</text>
<text transform="translate(44.24 101.81) scale(1.0600 1)" font-size="14.07">500</text>
<text transform="translate(24.00 220.00) rotate(-90) scale(1.1200 1)" font-size="14.07">[W/m<tspan dy="-6.00" dx="0.75" font-size="11.82">2</tspan><tspan dy="6.00">]</tspan></text>
<text transform="translate(62.30 243.81) scale(1.0600 1)" font-size="14.07">0</text>
<text transform="translate(44.24 208.81) scale(1.0600 1)" font-size="14.07">500</text>
<text transform="translate(36.13 174.00) scale(1.0600 1)" font-size="14.07">1000</text>
<text transform="translate(41.00 315.00) rotate(-90) scale(1.1200 1)" font-size="14.07">[W/m<tspan dy="-6.00" dx="0.75" font-size="11.82">2</tspan><tspan dy="6.00">]</tspan></text>
<text transform="translate(62.30 337.81) scale(1.0600 1)" font-size="14.07">0</text>
<text transform="translate(53.38 307.00) scale(1.0600 1)" font-size="14.07">25</text>
<text transform="translate(53.08 274.81) scale(1.0600 1)" font-size="14.07">50</text>
<text transform="translate(37.00 409.00) rotate(-90) scale(1.1200 1)" font-size="14.07">[W/m<tspan dy="-6.00" dx="0.75" font-size="11.82">2</tspan><tspan dy="6.00">]</tspan></text>
<text transform="translate(49.07 432.81) scale(1.0600 1)" font-size="14.07">0.0</text>
<text transform="translate(48.78 399.81) scale(1.0600 1)" font-size="14.07">0.5</text>
<text transform="translate(48.91 368.00) scale(1.0600 1)" font-size="14.07">1.0</text>
<text transform="translate(76.30 447.81) scale(1.0600 1)" font-size="14.07">0</text>
<text transform="translate(159.21 448.00) scale(1.0600 1)" font-size="14.07">4</text>
<text transform="translate(241.30 447.81) scale(1.0600 1)" font-size="14.07">8</text>
<text transform="translate(319.93 448.00) scale(1.0600 1)" font-size="14.07">12</text>
<text transform="translate(401.93 448.00) scale(1.0600 1)" font-size="14.07">16</text>
<text transform="translate(485.47 448.00) scale(1.0600 1)" font-size="14.07">20</text>
<text transform="translate(567.52 448.00) scale(1.0600 1)" font-size="14.07">24</text>
<text transform="translate(455.15 94.00) scale(1.0965 1)" font-size="12.66">LibRadtran Model</text>
<text transform="translate(455.33 114.00) scale(0.9341 1)" font-size="12.66">BSRN</text>
<text transform="translate(96.37 72.00) scale(1.1566 1)" font-size="14.07" font-weight="bold" fill="#ffa500">Global Radiation</text>
<text transform="translate(96.60 168.00) scale(1.1778 1)" font-size="14.07" font-weight="bold" fill="#ffa500">Direct Radiation</text>
<text transform="translate(96.53 264.00) scale(1.1707 1)" font-size="14.07" font-weight="bold" fill="#ffa500">Diffuse Radiation</text>
<text transform="translate(96.75 360.00) scale(1.1507 1)" font-size="14.07" font-weight="bold" fill="#ffa500">UVB Radiation</text>
</g>
</svg>
</body></html>
